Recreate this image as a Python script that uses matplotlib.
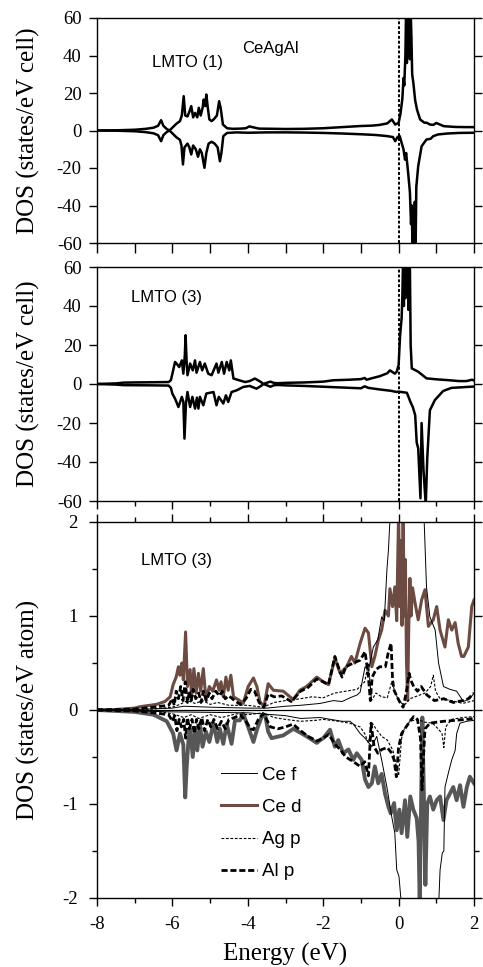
import matplotlib
matplotlib.use("Agg")
import matplotlib.pyplot as plt
from matplotlib.ticker import MultipleLocator
from matplotlib.lines import Line2D

plt.rcParams['font.family'] = ['Liberation Serif', 'DejaVu Serif']
plt.rcParams['axes.unicode_minus'] = False

# ---- total DOS, LMTO (1): spin up / spin down ----
lmto1_up_e = [-8.0, -7.5, -7.0, -6.7, -6.5, -6.38, -6.3, -6.24, -6.15, -6.08, -6.0, -5.9, -5.8,
              -5.75, -5.7, -5.66, -5.6, -5.55, -5.5, -5.45, -5.4, -5.34, -5.3, -5.25, -5.2, -5.17,
              -5.13, -5.1, -5.06, -5.02, -4.96, -4.9, -4.82, -4.76, -4.72, -4.66, -4.55, -4.4, -4.2,
              -4.05, -3.96, -3.88, -3.7, -3.3, -3.0, -2.5, -2.0, -1.5, -1.0, -0.7, -0.5, -0.3,
              -0.18, -0.09, 0.0, 0.05, 0.1, 0.13, 0.15, 0.18, 0.2, 0.22, 0.24, 0.26, 0.28, 0.3,
              0.32, 0.34, 0.36, 0.39, 0.44, 0.49, 0.57, 0.68, 0.75, 0.83, 0.92, 1.0, 1.06, 1.2,
              1.5, 1.8, 2.0]
lmto1_up = [0.0, 0.1, 0.4, 0.9, 1.5, 2.5, 5.5, 2.5, 0.8, 0.0, 1.5, 3.5, 5.0,
            8.0, 18.3, 8.0, 7.5, 10.0, 13.0, 7.0, 9.4, 7.0, 12.1, 8.0, 12.0, 16.5,
            13.0, 19.2, 12.0, 5.9, 5.0, 6.0, 8.0, 15.6, 12.0, 3.2, 1.2, 0.9, 1.0,
            1.2, 2.2, 1.8, 1.0, 0.9, 0.8, 0.9, 1.2, 1.8, 2.4, 2.6, 3.0, 3.8,
            5.9, 3.2, 4.0, 9.0, 17.0, 28.0, 24.0, 40.0, 66.0, 36.0, 62.0, 42.0, 70.0, 38.0,
            64.0, 50.0, 30.0, 25.6, 16.0, 11.0, 5.9, 4.2, 4.1, 3.2, 3.0, 4.0, 3.5, 2.3,
            1.9, 1.8, 1.8]

lmto1_dn_e = [-8.0, -7.5, -7.0, -6.7, -6.5, -6.38, -6.3, -6.24, -6.15, -6.08, -6.0, -5.9, -5.8,
              -5.76, -5.72, -5.68, -5.6, -5.55, -5.5, -5.45, -5.38, -5.32, -5.27, -5.22, -5.15,
              -5.1, -5.04, -4.96, -4.88, -4.8, -4.74, -4.7, -4.65, -4.55, -4.3, -4.0, -3.5, -3.0,
              -2.5, -2.0, -1.5, -1.0, -0.6, -0.3, -0.15, -0.09, -0.03, 0.03, 0.08, 0.13, 0.17,
              0.2, 0.26, 0.3, 0.33, 0.35, 0.37, 0.39, 0.41, 0.43, 0.45, 0.47, 0.52, 0.61, 0.74,
              0.85, 0.92, 1.05, 1.3, 1.6, 2.0]
lmto1_dn = [0.0, -0.1, -0.4, -0.9, -1.5, -2.5, -5.7, -2.5, -0.8, 0.0, -1.5, -3.5, -5.0,
            -8.0, -18.1, -9.0, -7.0, -9.0, -12.8, -8.0, -10.0, -14.0, -10.0, -12.0, -19.9,
            -12.0, -7.0, -6.0, -7.0, -9.0, -16.4, -12.0, -3.0, -1.3, -1.0, -1.2, -1.0, -1.0,
            -1.1, -1.3, -1.6, -2.0, -2.4, -3.0, -3.5, -5.7, -3.5, -3.0, -6.6, -10.0, -15.5,
            -12.0, -24.0, -33.0, -50.0, -40.0, -66.0, -45.0, -62.0, -38.0, -65.0, -30.0, -19.0,
            -8.4, -4.8, -4.4, -3.0, -2.1, -1.6, -1.3, -1.2]

# ---- total DOS, LMTO (3): spin up / spin down ----
lmto3_up_e = [-8.0, -7.5, -7.3, -7.0, -6.5, -6.1, -6.04, -6.0, -5.93, -5.89, -5.82, -5.75, -5.71,
              -5.67, -5.65, -5.62, -5.6, -5.53, -5.46, -5.4, -5.36, -5.27, -5.21, -5.14, -5.05,
              -4.96, -4.83, -4.78, -4.69, -4.63, -4.56, -4.49, -4.45, -4.38, -4.21, -4.07, -3.95,
              -3.81, -3.65, -3.59, -3.5, -3.4, -3.3, -3.2, -3.0, -2.5, -2.0, -1.74, -1.3, -1.0,
              -0.9, -0.85, -0.7, -0.5, -0.3, -0.23, -0.1, -0.05, 0.0, 0.04, 0.08, 0.1, 0.12, 0.14,
              0.16, 0.18, 0.2, 0.22, 0.24, 0.26, 0.28, 0.3, 0.32, 0.35, 0.45, 0.52, 0.74, 1.0,
              1.3, 1.6, 1.8, 1.95, 2.0]
lmto3_up = [0.0, 0.3, 0.7, 0.8, 0.9, 1.0, 2.0, 5.3, 11.3, 10.5, 8.7, 12.1, 5.3,
            15.0, 25.0, 10.0, 4.5, 10.5, 7.0, 12.1, 5.8, 11.3, 7.0, 10.5, 5.3,
            4.5, 10.5, 5.8, 11.3, 5.3, 11.3, 7.0, 12.1, 2.8, 1.8, 1.0, 1.5,
            2.8, 1.0, 0.0, 0.6, 1.2, 0.5, 0.4, 0.6, 0.8, 1.2, 1.9, 2.2, 2.5,
            3.1, 2.2, 3.0, 4.0, 5.5, 7.0, 5.3, 6.3, 9.7, 25.0, 33.7, 45.0, 66.0, 40.0,
            68.0, 44.0, 70.0, 50.0, 66.0, 38.0, 64.0, 60.0, 20.0, 8.0, 7.0, 6.3, 2.9, 2.4,
            2.0, 1.5, 1.5, 2.2, 1.8]

lmto3_dn_e = [-8.0, -7.5, -7.3, -6.5, -6.1, -6.04, -6.0, -5.93, -5.84, -5.75, -5.71, -5.68,
              -5.64, -5.6, -5.53, -5.47, -5.4, -5.35, -5.31, -5.27, -5.18, -5.1, -4.91, -4.83,
              -4.77, -4.65, -4.58, -4.52, -4.43, -4.29, -4.12, -3.95, -3.77, -3.65, -3.59, -3.5,
              -3.4, -3.3, -3.2, -3.0, -2.5, -2.0, -1.5, -1.0, -0.9, -0.8, -0.5, -0.2, -0.05, 0.0,
              0.22, 0.31, 0.38, 0.44, 0.48, 0.52, 0.58, 0.61, 0.66, 0.72, 0.76, 0.83, 0.96, 1.18,
              1.4, 2.0]
lmto3_dn = [0.0, -0.3, -0.6, -0.7, -0.8, -2.0, -5.0, -7.5, -11.8, -6.6, -9.0, -28.0,
            -10.0, -4.1, -11.8, -6.6, -12.6, -7.0, -12.6, -6.6, -10.9, -4.9, -4.1, -10.9,
            -6.6, -10.0, -5.8, -9.2, -4.1, -3.2, -1.5, -1.0, -2.4, -1.0, 0.0, -0.6,
            -1.4, -0.6, -0.5, -0.7, -1.0, -1.4, -1.8, -2.2, -1.2, -2.0, -2.8, -3.5, -4.1, -3.9,
            -4.5, -9.0, -12.0, -16.0, -30.0, -33.0, -58.6, -20.0, -44.0, -62.0, -38.0, -13.5,
            -8.3, -3.6, -2.0, -1.3]

# ---- partial DOS, LMTO (3) ----
ced_up_e = [-8.0, -7.5, -7.0, -6.86, -6.42, -6.2, -6.06, -5.98, -5.9, -5.84, -5.8, -5.75, -5.71,
            -5.65, -5.6, -5.53, -5.49, -5.43, -5.37, -5.31, -5.25, -5.18, -5.11, -5.02, -4.93,
            -4.83, -4.76, -4.71, -4.65, -4.58, -4.52, -4.45, -4.38, -4.25, -4.12, -3.99, -3.85,
            -3.76, -3.68, -3.57, -3.46, -3.32, -3.06, -2.79, -2.62, -2.44, -2.17, -2.0, -1.86,
            -1.69, -1.55, -1.38, -1.25, -1.16, -1.02, -0.89, -0.8, -0.71, -0.63, -0.54, -0.45,
            -0.36, -0.27, -0.23, -0.16, -0.1, -0.05, 0.0, 0.03, 0.06, 0.09, 0.12, 0.15, 0.18,
            0.21, 0.24, 0.27, 0.3, 0.33, 0.37, 0.44, 0.52, 0.61, 0.7, 0.79, 0.92, 1.01, 1.1,
            1.23, 1.32, 1.41, 1.5, 1.58, 1.67, 1.73, 1.85, 1.94, 2.0]
ced_up = [0.0, 0.005, 0.02, 0.035, 0.06, 0.09, 0.14, 0.27, 0.35, 0.46, 0.37, 0.5, 0.32,
          0.83, 0.25, 0.43, 0.14, 0.44, 0.18, 0.39, 0.2, 0.44, 0.11, 0.25, 0.2,
          0.32, 0.21, 0.3, 0.14, 0.35, 0.21, 0.37, 0.14, 0.11, 0.07, 0.25, 0.34,
          0.25, 0.09, 0.035, 0.28, 0.21, 0.2, 0.11, 0.21, 0.25, 0.35, 0.3, 0.27,
          0.55, 0.39, 0.46, 0.57, 0.5, 0.71, 0.87, 0.82, 0.46, 0.57, 0.74, 0.85,
          1.06, 1.0, 1.29, 1.1, 1.31, 0.95, 2.1, 1.1, 1.8, 0.9, 2.1, 1.0, 1.6,
          0.5, 0.1, 0.9, 1.4, 1.0, 1.3, 1.13, 0.96, 1.17, 1.28, 0.89, 0.96, 1.1, 0.85,
          0.67, 0.96, 0.85, 0.93, 0.71, 0.57, 0.57, 0.67, 1.1, 1.17]

ced_dn_e = [-8.0, -7.0, -6.5, -6.15, -5.98, -5.89, -5.8, -5.71, -5.66, -5.62, -5.57, -5.53, -5.46,
            -5.4, -5.34, -5.27, -5.2, -5.11, -5.02, -4.91, -4.81, -4.74, -4.65, -4.56, -4.43,
            -4.34, -4.21, -4.12, -3.99, -3.85, -3.75, -3.63, -3.54, -3.46, -3.37, -3.06, -2.79,
            -2.57, -2.44, -2.17, -2.08, -2.0, -1.82, -1.69, -1.6, -1.47, -1.33, -1.2, -1.11,
            -0.98, -0.89, -0.8, -0.71, -0.63, -0.54, -0.45, -0.36, -0.27, -0.21, -0.12, -0.05,
            0.02, 0.08, 0.17, 0.23, 0.31, 0.39, 0.48, 0.53, 0.56, 0.6, 0.63, 0.67, 0.71, 0.76,
            0.83, 0.92, 1.01, 1.1, 1.19, 1.27, 1.36, 1.45, 1.54, 1.63, 1.72, 1.81, 1.89, 2.0]
ced_dn = [0.0, -0.02, -0.05, -0.12, -0.25, -0.43, -0.25, -0.37, -0.93, -0.6, -0.3, -0.2, -0.5,
          -0.2, -0.43, -0.15, -0.39, -0.23, -0.34, -0.14, -0.34, -0.2, -0.36, -0.15, -0.36,
          -0.11, -0.11, -0.04, -0.18, -0.34, -0.2, -0.07, -0.05, -0.23, -0.3, -0.27, -0.2,
          -0.25, -0.28, -0.35, -0.32, -0.3, -0.21, -0.39, -0.32, -0.46, -0.42, -0.53, -0.46,
          -0.53, -0.74, -0.82, -0.78, -0.6, -0.78, -0.68, -0.89, -1.03, -1.1, -0.99, -1.28,
          -1.06, -1.31, -0.96, -1.35, -0.92, -1.06, -1.15, -1.4, -2.05, -0.9, -0.08, -0.9,
          -1.86, -1.0, -0.92, -1.06, -0.96, -0.92, -1.17, -0.96, -0.89, -0.82, -0.96, -0.8,
          -1.03, -0.82, -0.71, -0.78]

cef_up_e = [-8.0, -7.0, -6.0, -5.7, -5.0, -4.0, -3.5, -3.0, -2.6, -2.08, -1.73, -1.5, -1.29,
            -1.1, -1.02, -0.89, -0.8, -0.67, -0.55, -0.45, -0.38, -0.31, -0.27, -0.22, 0.0,
            0.3, 0.6, 0.67, 0.74, 0.83, 0.97, 1.06, 1.19, 1.36, 1.54, 1.72, 1.89, 2.0]
cef_up = [0.0, 0.005, 0.02, 0.04, 0.03, 0.02, 0.02, 0.04, 0.05, 0.07, 0.1, 0.09, 0.13,
          0.16, 0.19, 0.46, 0.42, 0.67, 0.75, 0.99, 0.95, 1.49, 1.7, 2.1, 3.0,
          3.0, 2.5, 2.1, 1.31, 0.99, 0.85, 0.5, 0.25, 0.22, 0.2, 0.09, 0.12, 0.18]

cef_dn_e = [-8.0, -6.0, -4.0, -3.0, -2.6, -2.08, -1.8, -1.5, -1.29, -1.2, -1.02, -0.89, -0.71,
            -0.58, -0.45, -0.31, -0.18, -0.1, -0.05, 0.01, 0.08, 0.5, 1.06, 1.1, 1.16, 1.2,
            1.23, 1.32, 1.41, 1.5, 1.54, 1.63, 1.81, 2.0]
cef_dn = [0.0, -0.02, -0.03, -0.06, -0.09, -0.08, -0.1, -0.12, -0.12, -0.15, -0.25, -0.3, -0.39,
          -0.28, -0.53, -0.82, -1.14, -1.31, -1.7, -1.77, -2.1, -3.0, -2.1, -1.7, -1.52, -1.5,
          -0.82, -0.67, -0.53, -0.43, -0.25, -0.14, -0.12, -0.11]

agp_up_e = [-8.0, -6.5, -6.0, -5.8, -5.6, -5.4, -5.2, -5.0, -4.8, -4.5, -4.0, -3.6, -3.3, -3.0,
            -2.6, -2.3, -2.0, -1.7, -1.4, -1.1, -0.9, -0.8, -0.72, -0.6, -0.45, -0.3, -0.18,
            -0.1, 0.0, 0.15, 0.3, 0.5, 0.7, 0.85, 0.92, 0.98, 1.1, 1.4, 1.7, 2.0]
agp_up = [0.0, 0.01, 0.03, 0.06, 0.1, 0.07, 0.1, 0.06, 0.08, 0.05, 0.05, 0.03, 0.08, 0.1,
          0.12, 0.14, 0.13, 0.18, 0.2, 0.22, 0.3, 0.5, 0.1, 0.18, 0.14, 0.13, 0.3,
          0.2, 0.1, 0.05, 0.12, 0.15, 0.18, 0.25, 0.37, 0.2, 0.12, 0.1, 0.07, 0.1]

agp_dn_e = [-8.0, -6.5, -6.0, -5.7, -5.5, -5.3, -5.0, -4.7, -4.3, -4.0, -3.6, -3.3, -3.0, -2.6,
            -2.2, -2.0, -1.6, -1.3, -1.02, -0.9, -0.8, -0.7, -0.6, -0.45, -0.3, -0.15, -0.05,
            0.0, 0.08, 0.15, 0.3, 0.5, 0.7, 0.9, 1.05, 1.15, 1.2, 1.25, 1.4, 1.7, 2.0]
agp_dn = [0.0, -0.01, -0.04, -0.08, -0.05, -0.09, -0.05, -0.08, -0.04, -0.05, -0.03, -0.08,
          -0.1, -0.12, -0.11, -0.1, -0.12, -0.14, -0.18, -0.25, -0.35, -0.14, -0.2, -0.28,
          -0.32, -0.43, -0.62, -0.7, -0.3, -0.2, -0.12, -0.1, -0.13, -0.14, -0.2, -0.25,
          -0.4, -0.18, -0.1, -0.08, -0.07]

alp_up_e = [-8.0, -7.0, -6.5, -6.1, -6.0, -5.95, -5.9, -5.84, -5.78, -5.72, -5.66, -5.6, -5.55,
            -5.5, -5.45, -5.38, -5.3, -5.24, -5.18, -5.1, -5.02, -4.95, -4.85, -4.75, -4.68,
            -4.6, -4.5, -4.35, -4.2, -4.05, -3.92, -3.82, -3.7, -3.57, -3.46, -3.3, -3.1, -2.85,
            -2.6, -2.4, -2.17, -2.0, -1.86, -1.69, -1.6, -1.5, -1.4, -1.2, -1.02, -0.89, -0.8,
            -0.75, -0.7, -0.6, -0.5, -0.35, -0.28, -0.2, -0.16, -0.12, -0.05, 0.05, 0.12, 0.2,
            0.28, 0.32, 0.4, 0.5, 0.6, 0.75, 0.95, 1.2, 1.45, 1.7, 1.85, 2.0]
alp_up = [0.0, 0.01, 0.03, 0.05, 0.12, 0.05, 0.2, 0.12, 0.25, 0.1, 0.3, 0.08, 0.2,
          0.1, 0.22, 0.12, 0.18, 0.08, 0.2, 0.1, 0.18, 0.12, 0.2, 0.15, 0.2,
          0.12, 0.15, 0.1, 0.06, 0.12, 0.22, 0.2, 0.08, 0.03, 0.17, 0.14, 0.15, 0.09,
          0.2, 0.24, 0.33, 0.3, 0.27, 0.57, 0.46, 0.35, 0.46, 0.5, 0.53, 0.62, 0.35,
          0.1, 0.35, 0.43, 0.46, 0.46, 0.6, 0.71, 0.32, 0.21, 0.15, 0.07, 0.03, 0.18,
          0.39, 0.32, 0.25, 0.2, 0.25, 0.16, 0.1, 0.12, 0.08, 0.1, 0.12, 0.18]

alp_dn_e = [-8.0, -7.0, -6.5, -6.1, -6.0, -5.94, -5.88, -5.82, -5.76, -5.7, -5.65, -5.6, -5.55,
            -5.48, -5.42, -5.36, -5.3, -5.22, -5.15, -5.06, -4.98, -4.9, -4.8, -4.7, -4.6, -4.5,
            -4.35, -4.2, -4.05, -3.92, -3.85, -3.72, -3.6, -3.5, -3.4, -3.2, -3.0, -2.8, -2.6,
            -2.4, -2.17, -2.0, -1.85, -1.7, -1.55, -1.4, -1.2, -1.02, -0.9, -0.8, -0.73, -0.65,
            -0.55, -0.45, -0.3, -0.2, -0.12, -0.06, 0.0, 0.08, 0.2, 0.3, 0.4, 0.5, 0.58, 0.62,
            0.66, 0.7, 0.83, 1.0, 1.2, 1.5, 1.8, 2.0]
alp_dn = [0.0, -0.01, -0.03, -0.05, -0.12, -0.06, -0.22, -0.1, -0.18, -0.1, -0.3, -0.08, -0.2,
          -0.1, -0.25, -0.1, -0.2, -0.08, -0.22, -0.1, -0.18, -0.1, -0.2, -0.12, -0.2, -0.1,
          -0.08, -0.05, -0.12, -0.2, -0.21, -0.1, -0.04, -0.1, -0.18, -0.2, -0.18, -0.15, -0.22,
          -0.28, -0.33, -0.3, -0.26, -0.36, -0.42, -0.5, -0.55, -0.6, -0.55, -0.7, -0.14, -0.39,
          -0.46, -0.42, -0.4, -0.45, -0.53, -0.71, -0.4, -0.25, -0.18, -0.12, -0.07, -0.1, -0.3,
          -0.85, -0.5, -0.2, -0.14, -0.13, -0.12, -0.11, -0.1, -0.09]

brown = '#6c4b43'
grey = '#575757'
sans = ['Liberation Sans', 'DejaVu Sans']

fig = plt.figure(figsize=(4.83, 9.67), dpi=100)
W, H = 483.0, 967.0
left, right = 97, 474


def panel(top, bottom):
    return fig.add_axes([left / W, 1 - bottom / H, (right - left) / W, (bottom - top) / H])


ax1 = panel(18, 243)
ax2 = panel(267, 501)
ax3 = panel(522, 898)

for ax, up_e, up, dn_e, dn in [(ax1, lmto1_up_e, lmto1_up, lmto1_dn_e, lmto1_dn),
                               (ax2, lmto3_up_e, lmto3_up, lmto3_dn_e, lmto3_dn)]:
    ax.plot(up_e, up, color='black', lw=1.8)
    ax.plot(dn_e, dn, color='black', lw=1.8)
    ax.axvline(0, color='black', lw=1.4, linestyle=(0, (1.5, 1)))
    ax.set_ylim(-60, 60)
    ax.yaxis.set_major_locator(MultipleLocator(20))
    ax.set_ylabel('DOS (states/eV cell)', fontsize=18)
    ax.tick_params(labelbottom=False)

ax1.xaxis.set_major_locator(MultipleLocator(1))
ax2.xaxis.set_major_locator(MultipleLocator(2))
ax2.xaxis.set_minor_locator(MultipleLocator(1))

ax3.plot(ced_up_e, ced_up, color=brown, lw=2.2)
ax3.plot(ced_dn_e, ced_dn, color=grey, lw=2.8)
ax3.plot(cef_up_e, cef_up, color='black', lw=0.7)
ax3.plot(cef_dn_e, cef_dn, color='black', lw=0.7)
ax3.plot(agp_up_e, agp_up, color='black', lw=0.8, linestyle=(0, (2.5, 1.5)))
ax3.plot(agp_dn_e, agp_dn, color='black', lw=0.8, linestyle=(0, (2.5, 1.5)))
ax3.plot(alp_up_e, alp_up, color='black', lw=2.0, linestyle=(0, (2.2, 1.0)))
ax3.plot(alp_dn_e, alp_dn, color='black', lw=2.0, linestyle=(0, (2.2, 1.0)))
ax3.axhline(0, color='black', lw=0.9)
ax3.set_ylim(-2, 2)
ax3.yaxis.set_major_locator(MultipleLocator(1))
ax3.yaxis.set_minor_locator(MultipleLocator(0.5))
ax3.xaxis.set_major_locator(MultipleLocator(2))
ax3.xaxis.set_minor_locator(MultipleLocator(1))
ax3.set_ylabel('DOS (states/eV atom)', fontsize=18)
ax3.set_xlabel('Energy (eV)', fontsize=18, labelpad=7)

for ax in (ax1, ax2, ax3):
    ax.set_xlim(-8, 2)
    for s in ax.spines.values():
        s.set_linewidth(1.0)
    ax.tick_params(which='both', direction='out', left=True, right=True, bottom=True,
                   top=False, labelsize=13.5, width=1.0, pad=5)
    ax.tick_params(which='major', length=6)
    ax.tick_params(which='minor', length=3.5)
    ax.yaxis.set_label_coords(-0.15, 0.5)
ax1.tick_params(axis='x', which='major', length=7)
ax3.tick_params(axis='x', which='both', top=True, pad=7)
ax3.tick_params(axis='y', pad=8)

handles = [Line2D([], [], color='black', lw=0.7),
           Line2D([], [], color=brown, lw=2.2),
           Line2D([], [], color='black', lw=0.8, linestyle=(0, (2.5, 1.5))),
           Line2D([], [], color='black', lw=2.0, linestyle=(0, (2.2, 1.0)))]
ax3.legend(handles, ['Ce f', 'Ce d', 'Ag p', 'Al p'], loc='upper left',
           bbox_to_anchor=(0.329, 0.349), frameon=False, borderpad=0, borderaxespad=0,
           handlelength=1.9, handletextpad=0.3, labelspacing=0.8,
           prop={'family': sans, 'size': 13.5})

ax1.text(-5.6, 36, 'LMTO (1)', family=sans, fontsize=12, ha='center', va='center')
ax1.text(-3.4, 44, 'CeAgAl', family=sans, fontsize=12, ha='center', va='center')
ax2.text(-6.15, 44.5, 'LMTO (3)', family=sans, fontsize=12, ha='center', va='center')
ax3.text(-5.9, 1.59, 'LMTO (3)', family=sans, fontsize=12, ha='center', va='center')

fig.savefig('out.png', dpi=100)
